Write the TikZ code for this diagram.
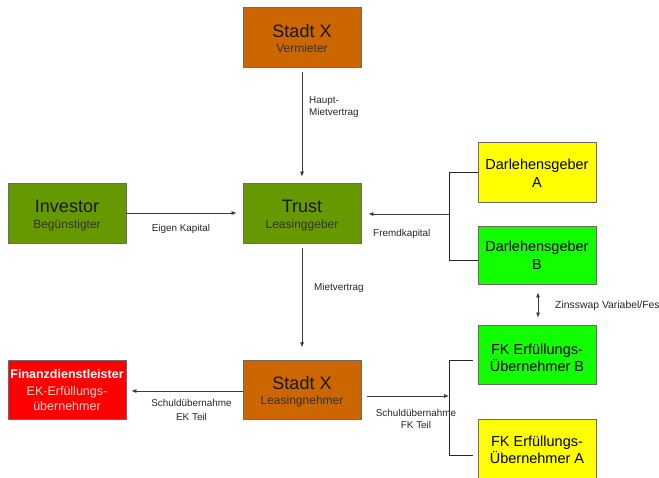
\documentclass[tikz,border=0pt]{standalone}
\usepackage{fontspec}
\setmainfont{Liberation Sans}
\usetikzlibrary{arrows.meta,calc}
\definecolor{orng}{HTML}{CC6600}
\definecolor{oliv}{HTML}{669900}
\definecolor{yel}{HTML}{FFFF00}
\definecolor{limeg}{HTML}{11FF00}
\definecolor{rd}{HTML}{FF0000}
\definecolor{bord}{HTML}{6A6A6A}
\definecolor{lin}{HTML}{3A3A3A}
\definecolor{pinktxt}{HTML}{FFD2D2}
\tikzset{
  box/.style={draw=bord, line width=0.8pt, minimum width=118pt, minimum height=59pt, inner sep=0pt},
  ttl/.style={anchor=base, inner sep=0pt, font=\fontsize{18}{18}\selectfont, text=black!90},
  subt/.style={anchor=base, inner sep=0pt, font=\fontsize{12}{12}\selectfont, text=black!80},
  bigt/.style={anchor=base, inner sep=0pt, font=\fontsize{14.5}{14.5}\selectfont, text=black},
  lbl/.style={anchor=base west, inner sep=0pt, font=\fontsize{9.9}{11}\selectfont, text=black!85},
  lblc/.style={anchor=base, inner sep=0pt, font=\fontsize{9.9}{11}\selectfont, text=black!85},
  arr/.style={draw=lin, line width=0.7pt, -{Latex[length=5pt,width=4pt]}},
  darr/.style={draw=lin, line width=0.7pt, {Latex[length=5pt,width=4pt]}-{Latex[length=5pt,width=4pt]}},
  brk/.style={draw=black!85, line width=0.7pt},
}
\begin{document}
\begin{tikzpicture}[x=1pt,y=-1pt]
\useasboundingbox (0,0) rectangle (659,477);
% boxes
\node[box, fill=orng, minimum height=60pt] (st1) at (302,37) {};
\node[ttl] (st1a) at (302,37) {Stadt X};
\node[subt] (st1b) at (302,52) {Vermieter};

\node[box, fill=oliv, minimum height=60pt] (inv) at (67,213) {};
\node[ttl] (inva) at (67,212.5) {Investor};
\node[subt] (invb) at (67,228) {Begünstigter};

\node[box, fill=oliv, minimum height=60pt] (trust) at (302,213) {};
\node[ttl] (trusta) at (302,212.5) {Trust};
\node[subt] (trustb) at (302,228) {Leasinggeber};

\node[box, fill=yel, minimum height=60pt] (dA) at (537,172) {};
\node[bigt] (dAa) at (537,169) {Darlehensgeber};
\node[bigt] (dAb) at (537,187.5) {A};

\node[box, fill=limeg, minimum height=58pt] (dB) at (537,255) {};
\node[bigt] (dBa) at (537,251.7) {Darlehensgeber};
\node[bigt] (dBb) at (537,269.5) {B};

\node[box, fill=limeg] (fB) at (537,354.5) {};
\node[bigt] (fBa) at (537,354.5) {FK Erfüllungs-};
\node[bigt] (fBb) at (537,371) {Übernehmer B};

\node[box, fill=yel] (fA) at (537,448.5) {};
\node[bigt] (fAa) at (537,446.5) {FK Erfüllungs-};
\node[bigt] (fAb) at (537,463) {Übernehmer A};

\node[box, fill=rd] (fin) at (67,389.5) {};
\node[anchor=base, inner sep=0pt, font=\fontsize{12.5}{12.5}\selectfont\bfseries, text=white] (fina) at (67,378.3) {Finanzdienstleister};
\node[anchor=base, inner sep=0pt, font=\fontsize{12.5}{12.5}\selectfont, text=pinktxt] (finb) at (67,395.7) {EK-Erfüllungs-};
\node[anchor=base, inner sep=0pt, font=\fontsize{12.5}{12.5}\selectfont, text=pinktxt] (finc) at (67,410) {übernehmer};

\node[box, fill=orng, minimum height=58.5pt] (st2) at (302,390) {};
\node[ttl] (st2a) at (302,389.3) {Stadt X};
\node[subt] (st2b) at (302,404.3) {Leasingnehmer};

% connectors
\draw[arr, shorten <=5pt, shorten >=6pt] (st1.south) -- (trust.north);
\node[lbl] (l1) at (309,103) {Haupt-};
\node[lbl] (l2) at (309,115) {Mietvertrag};

\draw[arr, shorten >=6pt] (inv.east) -- (trust.west);
\node[lblc] (l3) at (181,231) {Eigen Kapital};

\coordinate (bA) at (449,172);
\coordinate (bB) at (449,260);
\coordinate (bM) at (449,214);
\draw[brk] (dA.west |- bA) -- (bA) -- (bB) -- (dB.west |- bB);
\draw[arr, shorten >=7pt] (bM) -- (trust.east |- bM);
\node[lbl] (l4) at (373,236.5) {Fremdkapital};

\draw[arr, shorten <=5pt, shorten >=13pt] (trust.south) -- (st2.north);
\node[lbl] (l5) at (314,290.5) {Mietvertrag};

\draw[darr, shorten <=8pt, shorten >=7pt] (dB.south -| 538,0) -- (fB.north -| 538,0);
\node[lbl, font=\fontsize{10.4}{11}\selectfont] (l6) at (555,308.5) {Zinsswap Variabel/Fes};

\coordinate (cB) at (449,360);
\coordinate (cA) at (449,455);
\coordinate (cM) at (449,396);
\draw[brk] ([xshift=-5pt]fB.west |- cB) -- (cB) -- (cA) -- ([xshift=-5pt]fA.west |- cA);
\draw[arr, shorten <=6pt] (st2.east |- cM) -- (cM);
\node[lblc] (l7) at (416,416.5) {Schuldübernahme};
\node[lblc] (l8) at (416,428.5) {FK Teil};

\coordinate (eM) at (244,391);
\draw[arr, shorten >=5pt] (st2.west |- eM) -- (fin.east |- eM);
\node[lblc] (l9) at (191.5,406.7) {Schuldübernahme};
\node[lblc] (l10) at (191.5,420) {EK Teil};
\end{tikzpicture}
\end{document}
